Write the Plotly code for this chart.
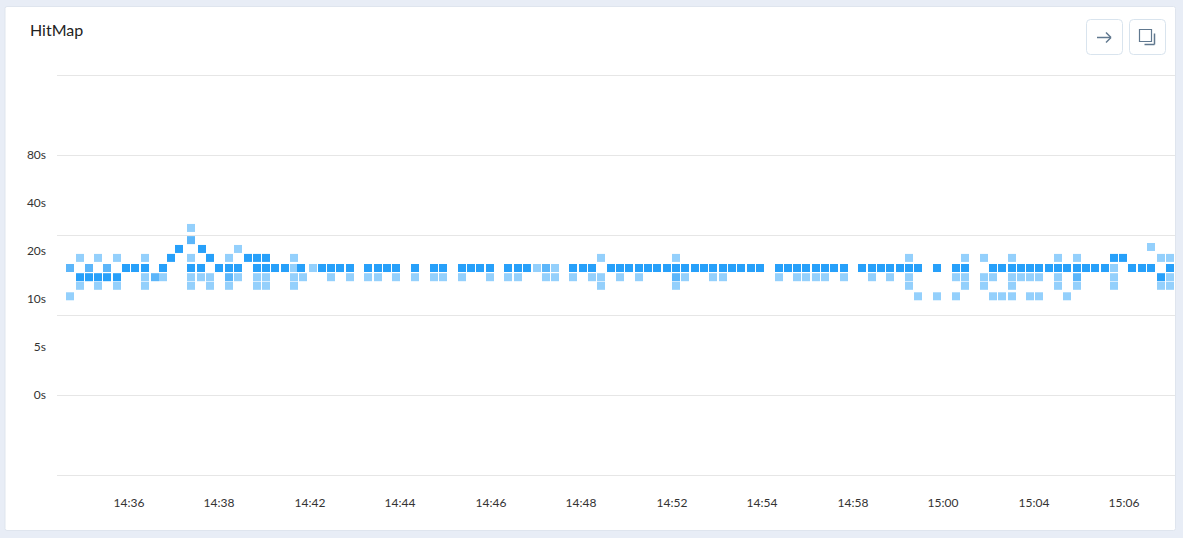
import plotly.graph_objects as go

TITLE = "HitMap"
BG = "#e8edf6"
GRID = "#e6e6e6"
TEXT = "#333333"
DARK = "#27a0fa"
MID = "#5cb6fa"
LIGHT = "#94d0fc"

# Elapsed position of each time bucket on the category-like time axis
tick_pos = [72, 162, 253, 343, 434, 524, 615, 705, 796, 886, 977, 1067]
tick_labels = ["14:36", "14:38", "14:42", "14:44", "14:46", "14:48",
               "14:52", "14:54", "14:58", "15:00", "15:04", "15:06"]
y_ticks = [2.5, 5, 10, 20, 40, 80]
y_labels = ["0s", "5s", "10s", "20s", "40s", "80s"]

# Latency (seconds) -> elapsed positions of the cells, per density level
dark = {
    15.65: [69, 78, 88, 106, 134, 144, 162, 172, 181, 200, 209, 218, 228, 244, 265, 274, 283, 293,
            311, 321, 330, 339, 358, 377, 386, 405, 414, 423, 433, 451, 461, 470, 516, 526, 535,
            554, 563, 572, 582, 591, 600, 610, 619, 628, 638, 647, 656, 666, 675, 684, 694, 703,
            722, 731, 740, 749, 759, 768, 777, 787, 805, 815, 824, 833, 843, 852, 861, 880, 899,
            908, 936, 945, 955, 964, 973, 982, 992, 1001, 1010, 1020, 1029, 1038, 1048, 1075,
            1085, 1094, 1113],
    13.7: [23, 32, 41, 50, 60, 1104],
    18.1: [114, 153, 191, 200, 209, 1057, 1066],
    20.6: [122, 145],
}
mid = {
    15.65: [13, 32, 50, 489],
    13.7: [98, 172, 619, 1020],
    23.4: [134],
}
light = {
    27.9: [134],
    21.2: [1094],
    20.6: [181],
    18.1: [23, 41, 60, 88, 134, 172, 237, 544, 619, 852, 908, 927, 955, 1001, 1020, 1104, 1113],
    15.65: [237, 256, 480, 498, 1057],
    13.7: [88, 106, 134, 144, 153, 181, 200, 209, 237, 246, 274, 293, 311, 321, 339, 358, 377, 386,
           405, 433, 451, 461, 489, 498, 516, 535, 544, 563, 582, 628, 656, 666, 722, 740, 749, 759,
           768, 787, 815, 833, 852, 899, 908, 927, 936, 955, 964, 973, 982, 1001, 1057, 1113],
    12.1: [23, 41, 60, 88, 134, 153, 172, 200, 209, 237, 544, 619, 852, 908, 927, 955, 1001, 1020,
           1057, 1104, 1113],
    10.4: [13, 861, 880, 899, 936, 945, 955, 973, 982, 1010],
}

L, R, T, B = 57, 1175, 75, 475
W, H = 1183, 538


def X(px):
    return (px - L) / (R - L)


def Y(py):
    return (B - py) / (B - T)


def rrect(x0, y0, x1, y1, r):
    a, b, c, d = X(x0), X(x1), Y(y0), Y(y1)
    rx, ry = r / (R - L), r / (B - T)
    return (f"M{a+rx},{c} L{b-rx},{c} Q{b},{c} {b},{c-ry} L{b},{d+ry} Q{b},{d} {b-rx},{d} "
            f"L{a+rx},{d} Q{a},{d} {a},{d+ry} L{a},{c-ry} Q{a},{c} {a+rx},{c} Z")


def line(x0, y0, x1, y1, color="#60788f", width=1.5):
    return dict(type="line", xref="paper", yref="paper", x0=X(x0), x1=X(x1), y0=Y(y0), y1=Y(y1),
                line=dict(color=color, width=width))


fig = go.Figure()


def add_level(hits, color):
    xs, ys = [], []
    for sec, pos in hits.items():
        xs += pos
        ys += [sec] * len(pos)
    fig.add_trace(go.Scatter(x=xs, y=ys, mode="markers", showlegend=False, hoverinfo="x+y",
                             marker=dict(symbol="square", size=8, color=color, line=dict(width=0))))


fig.add_trace(go.Scatter(x=[0, 1], y=[0, 5], yaxis="y2", mode="markers", showlegend=False,
                         hoverinfo="skip", marker=dict(opacity=0)))
add_level(light, LIGHT)
add_level(mid, MID)
add_level(dark, DARK)

shapes = [
    dict(type="path", xref="paper", yref="paper", path=rrect(5, 6.5, 1175.5, 530.5, 2),
         fillcolor="white", line=dict(color="#dfe5ee", width=1), layer="below"),
    line(L, 75.5, R, 75.5, GRID, 1),
    line(L, 475.5, R, 475.5, GRID, 1),
    dict(type="path", xref="paper", yref="paper", path=rrect(1086.5, 19.5, 1122.5, 54.5, 4),
         fillcolor="white", line=dict(color="#d9e4ee", width=1)),
    dict(type="path", xref="paper", yref="paper", path=rrect(1129.5, 19.5, 1165.5, 54.5, 4),
         fillcolor="white", line=dict(color="#d9e4ee", width=1)),
    line(1097, 37.5, 1111, 37.5),
    line(1106, 32.5, 1111, 37.5),
    line(1106, 42.5, 1111, 37.5),
    dict(type="rect", xref="paper", yref="paper", x0=X(1139.5), x1=X(1151.5), y0=Y(29.5), y1=Y(41.5),
         line=dict(color="#60788f", width=1.2)),
    line(1154.5, 33.5, 1154.5, 44.5),
    line(1144.5, 44.5, 1154.5, 44.5),
]

fig.update_layout(
    width=W, height=H,
    margin=dict(l=L, r=W - R, t=T, b=H - B, pad=0),
    paper_bgcolor=BG, plot_bgcolor="white",
    font=dict(family="Lato, 'Open Sans', sans-serif", size=12, color=TEXT),
    shapes=shapes,
    annotations=[dict(text=TITLE, xref="paper", yref="paper", x=X(28), y=Y(29), xanchor="left",
                      yanchor="middle", showarrow=False, font=dict(size=16, color="#222222"))],
    xaxis=dict(range=[0, R - L], tickmode="array", tickvals=tick_pos, ticktext=tick_labels,
               showgrid=False, zeroline=False, showline=False, ticks="", ticklabelstandoff=19,
               tickfont=dict(size=12, color=TEXT)),
    yaxis=dict(type="log", range=[-0.104, 2.405], tickmode="array", tickvals=y_ticks, ticktext=y_labels,
               showgrid=False, zeroline=False, showline=False, ticks="", ticklabelstandoff=10,
               tickfont=dict(size=12, color=TEXT)),
    yaxis2=dict(overlaying="y", range=[0, 5], tickmode="linear", tick0=0, dtick=1, showgrid=True,
                gridcolor=GRID, gridwidth=1, zeroline=False, showticklabels=False, showline=False, ticks=""),
)

fig.write_html("out.html", config={"displayModeBar": False},
               post_script=f"document.body.style.margin='0';document.body.style.background='{BG}';"
                           "document.body.style.overflow='hidden';")
